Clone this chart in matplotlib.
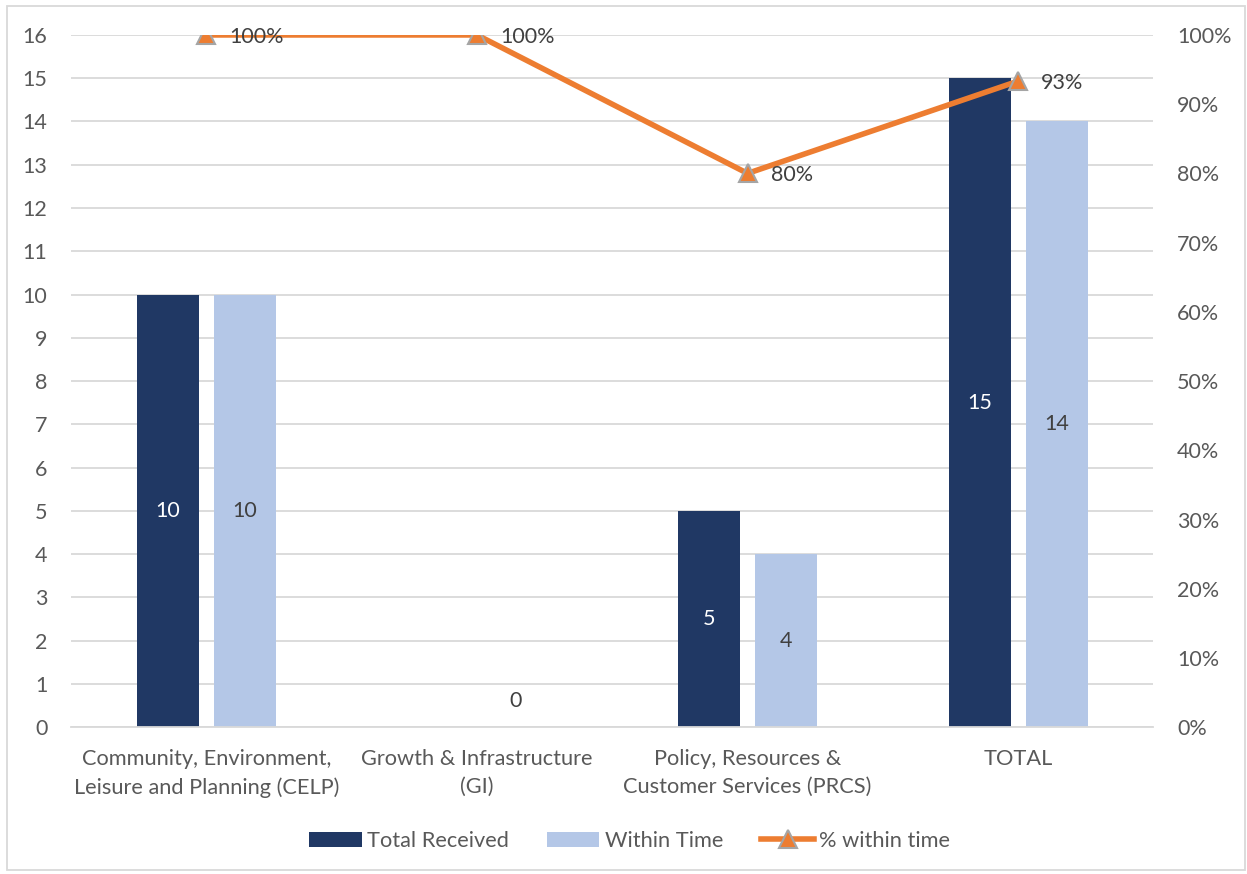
import matplotlib.pyplot as plt
import numpy as np

categories = ['Community, Environment,\nLeisure and Planning (CELP)',
              'Growth & Infrastructure\n(GI)',
              'Policy, Resources &\nCustomer Services (PRCS)',
              'TOTAL']
total_received = [10, 0, 5, 15]
within_time = [10, 0, 4, 14]
pct_within = [1.0, 1.0, 0.8, 14 / 15]

navy = '#203864'
light = '#B4C7E7'
orange = '#ED7D31'
grey_txt = '#595959'

plt.rcParams['font.family'] = ['Lato', 'DejaVu Sans']

fig = plt.figure(figsize=(12.47, 8.74), dpi=100)
ax = fig.add_axes([0.057, 0.168, 0.868, 0.792])
ax2 = ax.twinx()

x = np.arange(len(categories))
w = 0.229
off = 0.142

b1 = ax.bar(x - off, total_received, w, color=navy, label='Total Received', zorder=2)
b2 = ax.bar(x + off, within_time, w, color=light, label='Within Time', zorder=2)

# value labels in the middle of each bar
for xi, v in zip(x, total_received):
    if v > 0:
        ax.text(xi - off, v / 2, str(v), ha='center', va='center', color='white', fontsize=15.5)
for xi, v in zip(x, within_time):
    if v > 0:
        ax.text(xi + off, v / 2, str(v), ha='center', va='center', color='#404040', fontsize=15.5)
    else:
        ax.text(xi + off, v + 0.6, str(v), ha='center', va='center', color='#404040', fontsize=15.5)

ax.set_xlim(-0.5, len(categories) - 0.5)
ax.set_ylim(0, 16)
ax.set_yticks(range(0, 17))
ax.grid(axis='y', color='#D9D9D9', linewidth=1.3, zorder=0)
ax.set_axisbelow(True)
ax.set_xticks(x)
ax.set_xticklabels(categories, fontsize=15.7, color=grey_txt, linespacing=1.5)
ax.tick_params(axis='y', labelsize=15.5, labelcolor=grey_txt, length=0, pad=17)
ax.tick_params(axis='x', length=0, pad=15.5)
for s in ax.spines.values():
    s.set_visible(False)
ax.spines['bottom'].set_visible(True)
ax.spines['bottom'].set_color('#D9D9D9')
ax.spines['bottom'].set_linewidth(1.3)

line, = ax2.plot(x, pct_within, color=orange, linewidth=4, marker='^', markersize=13,
                 markerfacecolor=orange, markeredgecolor='#A5A5A5', markeredgewidth=1.5,
                 label='% within time', zorder=3)
for xi, p in zip(x, pct_within):
    ax2.text(xi + 0.085, p - 0.003, f'{p:.0%}', ha='left', va='center', color='#404040', fontsize=15.5)

ax2.set_ylim(0, 1)
ax2.set_yticks(np.linspace(0, 1, 11))
ax2.set_yticklabels([f'{t:.0%}' for t in np.linspace(0, 1, 11)])
ax2.tick_params(axis='y', labelsize=15.5, labelcolor=grey_txt, length=0, pad=17)
for s in ax2.spines.values():
    s.set_visible(False)

fig.legend([b1, b2, line], ['Total Received', 'Within Time', '% within time'],
           loc='center', bbox_to_anchor=(0.505, 0.038), ncol=3, frameon=False,
           fontsize=15.7, labelcolor=grey_txt, handlelength=2.4, handleheight=0.7,
           columnspacing=1.75, handletextpad=0.25)

# outer chart border
fig.patches.append(plt.Rectangle((0.006, 0.005), 0.992, 0.988, transform=fig.transFigure,
                                 fill=False, edgecolor='#D9D9D9', linewidth=1.3))

fig.savefig('out.png', dpi=100, facecolor='white')
